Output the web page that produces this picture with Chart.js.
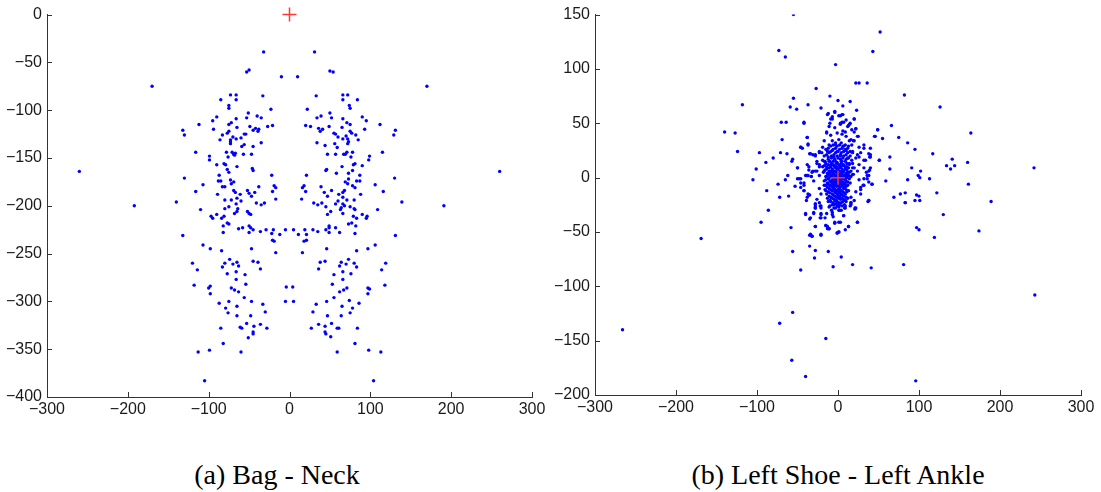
<!DOCTYPE html>
<html>
<head>
<meta charset="utf-8">
<script src="https://cdn.jsdelivr.net/npm/chart.js@4"></script>
<style>
  body { margin: 0; background: #fff; width: 1101px; height: 492px; position: relative; overflow: hidden; }
  canvas { position: absolute; top: 0; }
  #chartA { left: 0; }
  #chartB { left: 550px; }
  .caption {
    position: absolute; top: 461px; width: 400px; text-align: center;
    font-family: "Liberation Serif", "Times New Roman", serif; font-size: 28px; line-height: 1; color: #000;
  }
</style>
</head>
<body>
<canvas id="chartA" width="550" height="430"></canvas>
<canvas id="chartB" width="551" height="430"></canvas>
<div class="caption" style="left:77px">(a) Bag - Neck</div>
<div class="caption" style="left:638px">(b) Left Shoe - Left Ankle</div>
<script>
// tick values (same x range on both plots)
const xTicks = [-300, -200, -100, 0, 100, 200, 300];
const bagNeckYTicks = [-400, -350, -300, -250, -200, -150, -100, -50, 0];
const shoeAnkleYTicks = [-200, -150, -100, -50, 0, 50, 100, 150];

// reference point (red cross) for each plot
const bagNeckRef = [[0, 0]];
const shoeAnkleRef = [[0, 0]];

// (a) Bag - Neck offsets
const bagNeckPoints = [
  [-260,-164],[-192,-200],[-170,-75],[-140,-196],[-132,-121],[-130,-126],[-130,-171],[-116,-144],
  [-116,-185],[-112,-115],[-110,-204],[-107,-178],[-99,-148],[-99,-152],[-95,-111],[-94,-120],
  [-90,-107],[-90,-157],[-89,-188],[-87,-168],[-85,-89],[-86,-131],[-88,-174],[-83,-126],
  [-81,-156],[-79,-157],[-85,-174],[-83,-180],[-80,-194],[-80,-203],[-73,-84],[-66,-84],
  [-66,-89],[-75,-95],[-75,-98],[-66,-109],[-72,-113],[-75,-115],[-65,-118],[-75,-122],
  [-77,-124],[-70,-128],[-73,-131],[-73,-133],[-66,-130],[-73,-135],[-78,-144],[-76,-149],
  [-71,-144],[-69,-146],[-67,-145],[-68,-147],[-65,-159],[-75,-165],[-77,-162],[-73,-173],
  [-69,-175],[-72,-177],[-80,-180],[-69,-184],[-67,-186],[-72,-194],[-65,-192],[-75,-201],
  [-66,-198],[-64,-203],[-65,-206],[-61,-188],[-60,-195],[-60,-129],[-59,-138],[-57,-146],
  [-56,-125],[-54,-125],[-56,-136],[-53,-60],[-50,-58],[-53,-108],[-51,-103],[-52,-184],
  [-49,-117],[-50,-187],[-45,-121],[-47,-146],[-46,-161],[-45,-163],[-47,-190],[-45,-138],
  [-43,-186],[-42,-119],[-40,-106],[-41,-197],[-39,-122],[-38,-180],[-38,-120],[-35,-108],
  [-35,-134],[-33,-85],[-32,-39],[-31,-197],[-35,-199],[-27,-117],[-23,-99],[-21,-116],
  [-22,-168],[-21,-185],[-19,-179],[-17,-181],[-17,-193],[-10,-65],[10,-65],
  [-97,-211],[-95,-213],[-90,-209],[-84,-213],[-81,-211],[-82,-221],[-77,-218],[-75,-219],
  [-82,-228],[-68,-208],[-63,-224],[-58,-223],[-52,-206],[-48,-209],[-50,-208],[-50,-221],
  [-48,-223],[-50,-228],[-45,-225],[-36,-227],[-29,-225],[-22,-229],[-20,-225],[-21,-236],
  [-19,-237],[-12,-230],[-5,-225],[5,-225],[11,-230],[-132,-231],[-107,-241],[-98,-245],
  [-84,-247],[-47,-245],[-17,-249],[-120,-260],[-114,-267],[-118,-283],[-100,-286],[-98,-284],
  [-98,-292],[-83,-264],[-80,-260],[-74,-256],[-70,-261],[-65,-259],[-63,-263],[-77,-271],
  [-66,-269],[-55,-272],[-66,-277],[-54,-282],[-45,-258],[-39,-259],[-36,-266],[-72,-286],
  [-68,-288],[-63,-290],[-56,-296],[-47,-300],[-75,-300],[-87,-302],[-79,-307],[-76,-312],
  [-65,-305],[-65,-315],[-33,-303],[-30,-311],[-48,-315],[-85,-328],[-61,-327],[-59,-328],
  [-53,-323],[-44,-326],[-36,-324],[-28,-328],[-45,-332],[-45,-334],[-51,-338],[-82,-344],
  [-113,-353],[-99,-351],[-60,-353],[-105,-383],[-4,-285],[4,-285],[-5,-300],[5,-300],
  [31,-39],[50,-59],[54,-60],[170,-75],[260,-164],[33,-85],[66,-84],[72,-84],
  [66,-89],[84,-89],[74,-95],[75,-98],[22,-99],[50,-103],[39,-106],[34,-108],
  [52,-108],[66,-109],[90,-107],[95,-111],[71,-113],[75,-115],[112,-115],[20,-116],
  [26,-117],[65,-118],[36,-119],[41,-120],[38,-122],[49,-117],[75,-122],[77,-124],
  [93,-120],[131,-121],[129,-126],[55,-124],[57,-125],[70,-127],[82,-126],[60,-128],
  [66,-130],[72,-130],[85,-131],[73,-133],[72,-135],[34,-134],[44,-137],[56,-135],
  [59,-139],[78,-144],[71,-144],[67,-146],[69,-146],[57,-146],[47,-146],[115,-144],
  [99,-148],[98,-152],[76,-149],[81,-156],[79,-157],[90,-158],[65,-159],[46,-162],
  [45,-163],[58,-166],[73,-166],[78,-163],[87,-168],[21,-168],[130,-171],[73,-172],
  [69,-175],[72,-177],[83,-174],[87,-174],[78,-179],[81,-181],[106,-178],[39,-180],
  [16,-181],[18,-179],[20,-185],[43,-186],[52,-184],[66,-186],[68,-184],[61,-188],
  [47,-190],[66,-191],[88,-188],[116,-185],[15,-193],[60,-195],[71,-194],[80,-194],
  [30,-197],[35,-199],[40,-197],[45,-201],[57,-198],[66,-198],[64,-202],[68,-200],
  [75,-201],[80,-203],[81,-204],[139,-196],[191,-200],[109,-204],[63,-204],[66,-208],
  [47,-209],[51,-206],[90,-209],[79,-211],[83,-213],[95,-213],[96,-211],
  [73,-219],[77,-218],[82,-221],[81,-229],[57,-223],[62,-228],[49,-221],[49,-223],
  [45,-225],[49,-228],[35,-227],[29,-225],[21,-230],[19,-225],[18,-237],[21,-236],
  [16,-249],[46,-245],[131,-231],[83,-247],[97,-245],[106,-241],[38,-259],[44,-258],
  [36,-266],[64,-259],[62,-263],[70,-261],[73,-256],[80,-260],[83,-264],[119,-260],
  [114,-267],[66,-269],[76,-271],[55,-272],[66,-277],[53,-282],[118,-283],[62,-290],
  [67,-288],[71,-286],[97,-286],[99,-287],[97,-292],[55,-296],[46,-300],[74,-299],
  [86,-302],[78,-307],[75,-312],[65,-305],[33,-303],[29,-311],[47,-315],[64,-315],
  [36,-324],[44,-326],[52,-323],[59,-328],[61,-328],[84,-328],[27,-328],[44,-332],
  [45,-334],[51,-337],[81,-344],[98,-351],[113,-353],[59,-353],[104,-383]
];

// (b) Left Shoe - Left Ankle offsets
const shoeAnklePoints = [
  [-55,150],[-73,117],[-65,111],[-27,82],[-118,67],[-55,73],[-59,65],[-51,63],
  [-37,67],[-21,64],[-13,58],[-70,51],[-64,51],[-42,50],[-140,42],[-127,41],
  [-124,24],[-97,23],[-71,23],[-63,22],[-69,35],[-38,37],[-37,31],[-46,28],
  [-44,27],[-35,22],[-31,21],[-28,20],[-23,24],[-20,23],[-80,18],[-89,14],
  [-56,17],[-57,15],[-50,9],[-38,12],[-36,10],[-26,13],[-23,12],[-101,8],
  [-31,6],[-32,5],[-26,6],[-105,-2],[-62,2],[-65,-2],[-50,-1],[-46,-1],
  [-39,2],[-37,2],[-33,1],[-30,-3],[-46,-5],[-53,-8],[-42,-7],[-74,-6],
  [-88,-12],[-42,-12],[-37,-15],[-35,-16],[-72,-18],[-61,-17],[-39,-21],[-28,-24],
  [-28,-27],[-86,-30],[-23,-23],[-26,-20],[-22,-26],[-19,10],[-14,41],[-10,75],[-10,50],
  [52,134],[43,116],[-3,104],[22,87],[26,87],[36,87],[82,76],[126,65],
  [0,71],[15,70],[6,66],[23,62],[-4,61],[3,57],[6,58],[-7,56],
  [-7,54],[10,53],[20,54],[5,51],[3,50],[14,49],[13,48],[22,45],
  [17,44],[6,43],[9,42],[20,42],[66,48],[49,44],[164,41],[45,38],
  [55,36],[75,37],[25,38],[16,35],[19,34],[86,32],[95,26],[117,22],
  [141,17],[134,11],[139,8],[144,11],[160,14],[242,9],[161,-6],[189,-22],
  [64,19],[51,16],[64,8],[91,9],[102,6],[99,2],[101,0],[86,-2],
  [113,-1],[59,-3],[40,27],[32,27],[40,21],[39,19],[32,16],[26,19],
  [24,21],[40,9],[39,7],[35,5],[38,2],[38,-4],[42,-6],[32,-1],
  [31,-7],[28,-11],[28,-15],[38,-21],[69,-18],[77,-15],[83,-14],[83,-23],
  [97,-16],[100,-17],[95,-21],[101,-21],[122,-14],[21,-29],[16,-23],[15,-26],
  [9,-21],[-3,-24],
  [-95,-41],[-169,-56],[-58,-46],[-56,-68],[-40,-34],[-35,-38],[-30,-32],[-28,-28],
  [-21,-33],[-22,-37],[-28,-45],[-35,-53],[-32,-54],[-21,-52],[-35,-63],[-28,-67],
  [-29,-74],[-46,-85],[-15,-44],[-13,-45],[-11,-47],[-12,-68],[-14,-33],[-21,-26],
  [-56,-124],[-72,-134],[-266,-140],[-15,-148],[-57,-168],[-40,-183],
  [130,-34],[97,-46],[100,-48],[119,-55],[174,-49],[243,-108],[81,-80],[41,-83],
  [18,-80],[4,-73],[-6,-82],[96,-187],[24,-41],[13,-45],[9,-48],[1,-50],
  [-1,-51],[1,-41],[-4,-42],[7,-35],[-6,-36],[-7,-32],[2,-30],[8,-25],
  [8,-28],[16,-25],[16,-23],[21,-28],[37,-22],[83,-23],[-5,-25],[0,-25],[-5,-28],
  [-12,59],[-4,60],[1,57],[5,58],[-42,51],[-9,54],[3,49],[7,51],
  [15,50],[20,54],[-11,47],[-4,46],[12,47],[22,45],[49,44],[46,38],
  [24,38],[-14,42],[-9,39],[-1,41],[5,40],[10,38],[-38,37],[-17,34],
  [-7,34],[1,35],[14,34],[20,34],[-46,28],[-37,30],[-19,28],[-11,30],
  [-3,30],[7,29],[17,30],[26,28],[32,30],[-34,22],[-28,21],[-23,23],
  [-13,24],[-7,25],[0,24],[10,25],[18,24],[28,23],[38,22],[40,19],
  [-12,19],[-5,19],[3,20],[12,18],[22,18],[34,16],[-26,15],[-17,15],
  [-11,15],[-6,15],[-1,14],[5,15],[14,13],[26,12],[-50,9],[-23,10],
  [-14,10],[-9,11],[-4,10],[2,11],[9,10],[18,9],[32,9],[51,16],
  [-36,7],[-28,6],[-17,6],[-11,6],[-6,6],[5,6],[12,5],[24,6],
  [38,6],[-40,2],[-23,2],[-13,2],[-8,2],[10,2],[18,3],[36,2],
  [-48,-1],[-38,2],[-33,1],[-42,-5],[-46,-9],[-42,-12],[-36,-16],[-38,-18],
  [-23,-10],[-21,-15],[-17,-7],[-15,-12],[-13,-19],[-9,-22],[-3,-21],[3,-19],
  [10,-22],[16,-18],[20,-21],[22,-13],[28,-9],[26,-2],[32,-7],[36,-1],
  [42,-6],[38,-21],[-28,-25],[-21,-28],[-11,-27],[1,-27],[9,-26],[22,-28],
  [-28,-28],[-40,-33],[-30,-33],[-21,-34],[-16,-37],[-7,-34],[1,-30],[7,-35],
  [-4,-41],[3,-41],[-34,-37],[-21,-37],[-28,-45],[-15,-44],[-13,-47],[-11,-47],
  [-1,-51],[1,-50],[13,-45],[24,-41],[-34,-52],[-32,-54],[-21,-53]
];

// the solid core around the ankle, estimated row by row
const shoeAnkleCore = [
  [-6,30],[2,30],[9,30],[-12,27],[-3,27],[5,27],[12,27],[-9,24],[-1,24],[7,24],[15,24],
  [-14,21],[-5,21],[3,21],[10,21],[-8,18],[0,18],[6,18],[13,18],
  [-16,15],[-10,15],[-3,15],[4,15],[9,15],[-12,12],[-6,12],[1,12],[7,12],[14,12],
  [-9,10],[-2,10],[3,10],[11,10],[-14,8],[-7,8],[-1,8],[5,8],[9,8],
  [-10,6],[-4,6],[2,6],[7,6],[16,6],[-13,4],[-6,4],[0,4],[4,4],[10,4],
  [-8,2],[-3,2],[3,2],[8,2],[13,2],[-11,0],[-5,0],[-1,0],[2,0],[6,0],[11,0],
  [-15,-2],[-7,-2],[-2,-2],[4,-2],[9,-2],[-9,-4],[-4,-4],[1,-4],[6,-4],[12,-4],
  [-12,-6],[-6,-6],[0,-6],[3,-6],[8,-6],[-8,-8],[-2,-8],[5,-8],[10,-8],
  [-11,-10],[-5,-10],[1,-10],[7,-10],[-7,-12],[-1,-12],[4,-12],[13,-12],
  [-10,-14],[-3,-14],[2,-14],[8,-14],[-6,-16],[0,-16],[5,-16],
  [-9,-18],[-2,-18],[10,-18],[-5,-20],[3,-20],[7,-20],[-12,-22],[-1,-22],[6,-22],
  [-7,-25],[2,-25],[-3,-28],[9,-28],
  [-3,32],[4,32],[-9,29],[-1,29],[6,29],[13,29],[-15,26],[-6,26],[2,26],[9,26],
  [-11,23],[-3,23],[4,23],[12,23],[18,23],[-17,20],[-8,20],[-1,20],[7,20],[15,20],
  [-12,17],[-4,17],[3,17],[10,17],[-19,16],[17,16],
  [-15,13],[-8,13],[-2,13],[4,13],[11,13],[18,13],[-17,11],[-5,11],[6,11],
  [-11,9],[-3,9],[2,9],[13,9],[20,9],[-16,7],[-7,7],[0,7],[11,7],
  [-18,5],[-9,5],[-2,5],[6,5],[14,5],[-11,3],[-5,3],[1,3],[5,3],[11,3],[19,3],
  [-15,1],[-8,1],[-3,1],[0,1],[4,1],[9,1],[16,1],[-12,-1],[-4,-1],[1,-1],[7,-1],[14,-1],
  [-17,-3],[-10,-3],[-6,-3],[-1,-3],[3,-3],[10,-3],[-13,-5],[-7,-5],[-2,-5],[4,-5],[9,-5],[15,-5],
  [-15,-7],[-10,-7],[-4,-7],[1,-7],[6,-7],[12,-7],[-13,-9],[-6,-9],[2,-9],[8,-9],
  [-16,-11],[-9,-11],[-3,-11],[3,-11],[10,-11],[-12,-13],[-4,-13],[1,-13],[6,-13],[11,-13],
  [-14,-15],[-7,-15],[-1,-15],[4,-15],[9,-15],[-11,-17],[-4,-17],[2,-17],[7,-17],
  [-7,-19],[0,-19],[5,-19],[12,-19],[-10,-21],[-3,-21],[9,-21],[-6,-23],[1,-23],[4,-23],
  [-10,-26],[-1,-26],[5,-26],[-8,-30],[4,-30]
];

function toXY(pairs) {
  return pairs.map(([x, y]) => ({ x, y }));
}

function tickText(value) {
  return value < 0 ? '\u2212' + Math.abs(value) : String(value);
}

// MATLAB-style ticks pointing into the plot
const inwardTicks = {
  id: 'inwardTicks',
  afterDraw(chart) {
    const { ctx, chartArea: a, scales: { x, y } } = chart;
    ctx.save();
    ctx.strokeStyle = '#333';
    ctx.lineWidth = 1;
    ctx.beginPath();
    x.ticks.forEach(t => {
      const px = Math.round(x.getPixelForValue(t.value)) + 0.5;
      ctx.moveTo(px, a.bottom);
      ctx.lineTo(px, a.bottom - 5);
    });
    y.ticks.forEach(t => {
      const py = Math.round(y.getPixelForValue(t.value)) + 0.5;
      ctx.moveTo(a.left, py);
      ctx.lineTo(a.left + 5, py);
    });
    ctx.stroke();
    ctx.restore();
  }
};

function makePlot(id, refPoints, pointSets, yTicks, box) {
  const tickFont = { family: '"Liberation Sans", Arial, sans-serif', size: 16 };
  const datasets = [{
    data: toXY(refPoints),
    pointStyle: 'cross',
    pointRadius: 7,
    borderColor: 'rgb(255,55,55)',
    borderWidth: 1.5,
    clip: false
  }];
  pointSets.forEach(set => {
    datasets.push({
      data: toXY(set),
      pointRadius: 1.7,
      borderWidth: 0,
      backgroundColor: '#0000ff'
    });
  });

  return new Chart(document.getElementById(id), {
    type: 'scatter',
    data: { datasets },
    options: {
      responsive: false,
      animation: false,
      events: [],
      layout: { padding: { top: box.top, right: box.right, left: 0, bottom: 0 } },
      plugins: { legend: { display: false }, tooltip: { enabled: false } },
      scales: {
        x: {
          type: 'linear',
          min: xTicks[0],
          max: xTicks[xTicks.length - 1],
          afterBuildTicks: s => { s.ticks = xTicks.map(v => ({ value: v })); },
          afterFit: s => { s.height = box.xHeight; },
          grid: { display: true, drawOnChartArea: false, drawTicks: false },
          border: { display: true, color: '#333', width: 1 },
          ticks: { font: tickFont, color: '#1a1a1a', padding: 3, maxRotation: 0, autoSkip: false, callback: tickText }
        },
        y: {
          type: 'linear',
          min: yTicks[0],
          max: yTicks[yTicks.length - 1],
          afterBuildTicks: s => { s.ticks = yTicks.map(v => ({ value: v })); },
          afterFit: s => { s.width = box.yWidth; },
          grid: { display: true, drawOnChartArea: false, drawTicks: false },
          border: { display: true, color: '#333', width: 1 },
          ticks: { font: tickFont, color: '#1a1a1a', padding: 5, autoSkip: false, callback: tickText }
        }
      }
    },
    plugins: [inwardTicks]
  });
}

makePlot('chartA', bagNeckRef, [bagNeckPoints], bagNeckYTicks,
  { top: 13, right: 18, yWidth: 47, xHeight: 33 });
makePlot('chartB', shoeAnkleRef, [shoeAnklePoints, shoeAnkleCore], shoeAnkleYTicks,
  { top: 12, right: 20, yWidth: 45, xHeight: 35 });
</script>
</body>
</html>
